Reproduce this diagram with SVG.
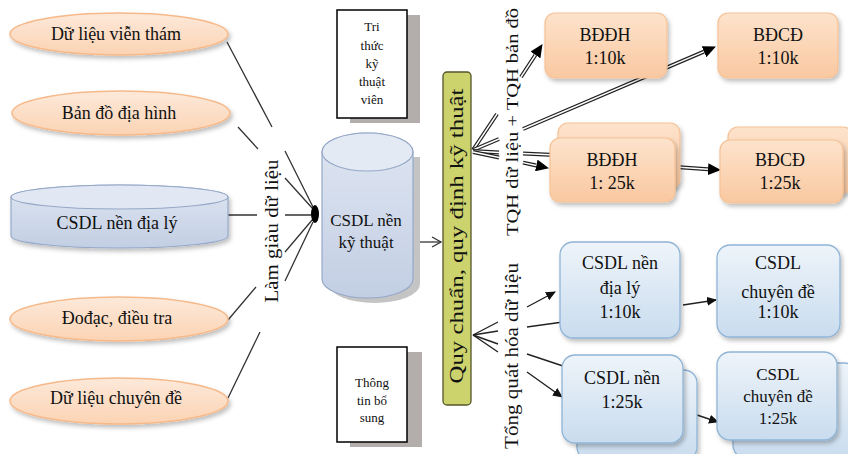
<svg xmlns="http://www.w3.org/2000/svg" width="848" height="454" viewBox="0 0 848 454" font-family="'Liberation Serif', 'Times New Roman', serif">
<defs>
<linearGradient id="gOr" x1="0" y1="0" x2="0" y2="1"><stop offset="0" stop-color="#fde9da"/><stop offset="1" stop-color="#fbd3b3"/></linearGradient>
<linearGradient id="gBox" x1="0" y1="0" x2="0" y2="1"><stop offset="0" stop-color="#fde3cc"/><stop offset="1" stop-color="#f9c8a0"/></linearGradient>
<linearGradient id="gBl" x1="0" y1="0" x2="0" y2="1"><stop offset="0" stop-color="#eef4fa"/><stop offset="1" stop-color="#c9dcee"/></linearGradient>
<linearGradient id="gCyl" x1="0" y1="0" x2="0" y2="1"><stop offset="0" stop-color="#dfe6f2"/><stop offset="1" stop-color="#c2cee3"/></linearGradient>
<filter id="sh" x="-10%" y="-10%" width="130%" height="140%"><feDropShadow dx="2" dy="3" stdDeviation="2" flood-color="#000" flood-opacity="0.25"/></filter>
<marker id="ah" markerUnits="userSpaceOnUse" markerWidth="14" markerHeight="12" refX="0" refY="6" orient="auto"><path d="M0,0 L13,6 L0,12 z" fill="#000"/></marker>
<marker id="as" markerUnits="userSpaceOnUse" markerWidth="11" markerHeight="9" refX="9" refY="4.5" orient="auto"><path d="M0,0 L10,4.5 L0,9 z" fill="#111"/></marker>
<marker id="ao" markerUnits="userSpaceOnUse" markerWidth="12" markerHeight="12" refX="10" refY="6" orient="auto"><path d="M1,1 L10,6 L1,11" fill="none" stroke="#333" stroke-width="1.3"/></marker>
</defs>
<style>
text{font-family:'Liberation Serif','Times New Roman',serif;fill:#111;text-anchor:middle}
.t18{font-size:18px}
.t17{font-size:17px}
.t13{font-size:13px}
.ell{fill:url(#gOr);stroke:#f6b98a;stroke-width:1.5}
.ob{fill:url(#gBox);stroke:#f6c195;stroke-width:1.2}
.bb{fill:url(#gBl);stroke:#8fb4d6;stroke-width:1.3}
.cyl{fill:url(#gCyl);stroke:#95a8c8;stroke-width:1.2}
.note{fill:#fff;stroke:#000;stroke-width:1.5}
.nsh{fill:#b3aeac}
.ln{fill:none;stroke:#333;stroke-width:1.3}
.dk{fill:none;stroke:#222;stroke-width:4}
.dw{fill:none;stroke:#fff;stroke-width:1.4}
.th{fill:none;stroke:#222;stroke-width:1.4}
</style>
<rect width="848" height="454" fill="#fff"/>

<g id="connectors">
<path class="ln" d="M227,42 L272,127 M285,151 L313,207"/>
<path class="ln" d="M238,127 L258,149 M285,178 L313,209"/>
<path class="ln" d="M228,215 L257,215 M285,215 L313,215"/>
<path class="ln" d="M228,320 L256,287 M285,252 L313,219"/>
<path class="ln" d="M228,398 L260,332 M285,281 L313,222"/>
<path class="ln" d="M414,242 L441,242" marker-end="url(#ao)"/>
<path class="dk" d="M473,150 L497,114 M521,77 L535.4,55" marker-end="url(#ah)"/>
<path class="dw" d="M473,150 L497,114 M521,77 L535.4,55"/>
<path class="dk" d="M473,150 L499,139 M523,129 L704,51.7" marker-end="url(#ah)"/>
<path class="dw" d="M473,150 L499,139 M523,129 L704,51.7"/>
<path class="dk" d="M473,151 L499,152.5 M523,153.5 L555,155"/>
<path class="dw" d="M473,151 L499,152.5 M523,153.5 L555,155"/>
<path class="dk" d="M473,152 L499,157.5 M523,162.6 L536.3,165.5" marker-end="url(#ah)"/>
<path class="dw" d="M473,152 L499,157.5 M523,162.6 L536.3,165.5"/>
<path class="dk" d="M676,167 L708,169.2" marker-end="url(#ah)"/>
<path class="dw" d="M676,167 L708,169.2"/>
<path class="th" d="M473,335 L498,322 M527,307 L555,292" marker-end="url(#as)"/>
<path class="th" d="M473,335 L498,331 M527,327 L563,322"/>
<path class="th" d="M473,335 L498,344 M527,354 L563,366"/>
<path class="th" d="M473,335 L498,352 M527,372 L562,397" marker-end="url(#as)"/>
<path class="th" d="M683,305 L716,300" marker-end="url(#as)"/>
<path class="th" d="M697,415 L718,422" marker-end="url(#as)"/>
</g>

<g id="blob"><ellipse cx="315" cy="214" rx="4" ry="9" fill="#000"/></g>

<g id="n-vientham"><ellipse class="ell" cx="119" cy="34" rx="109" ry="21" filter="url(#sh)"/><text class="t18" x="116" y="40">Dữ liệu viễn thám</text></g>
<g id="n-diahinh"><ellipse class="ell" cx="121" cy="113" rx="109" ry="22" filter="url(#sh)"/><text class="t18" x="119" y="119">Bản đồ địa hình</text></g>
<g id="n-csdlnen"><path class="cyl" filter="url(#sh)" d="M11,197 V236 A108.5,12 0 0 0 228,236 V197 A108.5,12 0 0 0 11,197 Z"/><ellipse cx="119.5" cy="197" rx="108.5" ry="12" fill="#e2e8f3" stroke="#95a8c8" stroke-width="1.2"/><text class="t18" x="117" y="229">CSDL nền địa lý</text></g>
<g id="n-dodac"><ellipse class="ell" cx="119" cy="319" rx="109" ry="22" filter="url(#sh)"/><text class="t18" x="117" y="324">Đođạc, điều tra</text></g>
<g id="n-chuyende"><ellipse class="ell" cx="119" cy="401" rx="109" ry="23" filter="url(#sh)"/><text class="t18" x="116" y="404">Dữ liệu chuyên đề</text></g>

<g id="lbl-lamgiau"><text class="t18" transform="translate(278,231) rotate(-90)" textLength="143" lengthAdjust="spacingAndGlyphs">Làm giàu dữ liệu</text></g>

<g id="n-csdlkt"><path d="M329,157 V284 A45.5,19 0 0 0 420,284 V157 Z" fill="#c4c4c4"/><path class="cyl" d="M322,152 V279 A45.5,19 0 0 0 413,279 V152 A45.5,19 0 0 0 322,152 Z"/><ellipse cx="367.5" cy="152" rx="45.5" ry="19" fill="#e4eaf4" stroke="#95a8c8" stroke-width="1.2"/><text class="t17" x="366" y="226">CSDL nền</text><text class="t17" x="366" y="248">kỹ thuật</text></g>

<g id="n-trithuc"><rect class="nsh" x="350" y="15" width="70" height="108"/><rect class="note" x="337" y="10" width="70" height="108"/><text class="t13" x="372" y="31">Tri</text><text class="t13" x="372" y="50">thức</text><text class="t13" x="372" y="68">kỹ</text><text class="t13" x="372" y="86">thuật</text><text class="t13" x="372" y="104">viên</text></g>
<g id="n-thongtin"><rect class="nsh" x="350" y="352" width="72" height="95"/><rect class="note" x="337" y="347" width="70" height="95"/><text class="t13" x="372" y="387">Thông</text><text class="t13" x="372" y="405">tin bổ</text><text class="t13" x="372" y="422">sung</text></g>

<g id="n-quychuan"><rect x="443" y="72" width="28" height="333" rx="4" fill="#ccd26c" stroke="#55552a" stroke-width="1.3"/><text class="t18" transform="translate(463,236) rotate(-90)" textLength="295" lengthAdjust="spacingAndGlyphs">Quy chuẩn, quy định kỹ thuật</text></g>

<g id="lbl-tqh"><text class="t17" transform="translate(518,122) rotate(-90)" textLength="228" lengthAdjust="spacingAndGlyphs">TQH dữ liệu + TQH bản đồ</text></g>
<g id="lbl-tongquat"><text class="t18" transform="translate(518,356) rotate(-90)" textLength="186" lengthAdjust="spacingAndGlyphs">Tổng quát hóa dữ liệu</text></g>

<g id="n-bddh10"><rect class="ob" x="545" y="13" width="122" height="65" rx="10" filter="url(#sh)"/><text class="t18" x="605" y="41">BĐĐH</text><text class="t18" x="605" y="64">1:10k</text></g>
<g id="n-bdcd10"><rect class="ob" x="718" y="13" width="120" height="65" rx="10" filter="url(#sh)"/><text class="t18" x="778" y="41">BĐCĐ</text><text class="t18" x="778" y="64">1:10k</text></g>
<g id="n-bddh25"><rect class="ob" x="558" y="123" width="122" height="66" rx="10" filter="url(#sh)"/><rect class="ob" x="550" y="138" width="125" height="64" rx="10" filter="url(#sh)"/><text class="t18" x="612" y="166">BĐĐH</text><text class="t18" x="612" y="189">1: 25k</text></g>
<g id="n-bdcd25"><rect class="ob" x="728" y="127" width="125" height="66" rx="10" filter="url(#sh)"/><rect class="ob" x="720" y="140" width="123" height="63" rx="10" filter="url(#sh)"/><text class="t18" x="780" y="166">BĐCĐ</text><text class="t18" x="780" y="189">1:25k</text></g>

<g id="n-csdl10"><rect class="bb" x="560" y="242" width="120" height="96" rx="13" filter="url(#sh)"/><text class="t18" x="620" y="269">CSDL nền</text><text class="t18" x="620" y="294">địa lý</text><text class="t18" x="620" y="318">1:10k</text></g>
<g id="n-cd10"><rect class="bb" x="717" y="245" width="123" height="92" rx="13" filter="url(#sh)"/><text class="t18" x="778" y="269">CSDL</text><text class="t18" x="778" y="298">chuyên đề</text><text class="t18" x="778" y="318">1:10k</text></g>
<g id="n-csdl25"><rect class="bb" x="577" y="370" width="120" height="90" rx="13" filter="url(#sh)"/><rect class="bb" x="562" y="355" width="121" height="88" rx="13" filter="url(#sh)"/><text class="t18" x="622" y="384">CSDL nền</text><text class="t18" x="622" y="408">1:25k</text></g>
<g id="n-cd25"><rect class="bb" x="733" y="363" width="125" height="95" rx="13" filter="url(#sh)"/><rect class="bb" x="717" y="352" width="120" height="88" rx="13" filter="url(#sh)"/><text class="t17" x="778" y="380">CSDL</text><text class="t17" x="778" y="402">chuyên đề</text><text class="t17" x="778" y="424">1:25k</text></g>
</svg>
